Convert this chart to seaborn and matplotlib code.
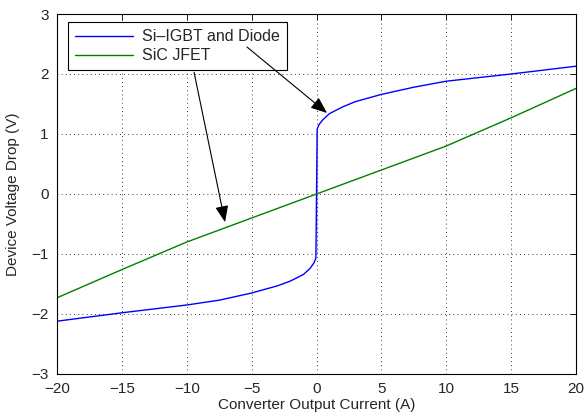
import numpy as np
import pandas as pd
import seaborn as sns
import matplotlib.pyplot as plt

# Si-IGBT + diode forward characteristic
igbt_current = [-20, -15, -10, -7.5, -5, -3, -2, -1, -0.5, -0.2, -0.05, 0,
                0, 0.05, 0.2, 0.5, 1, 2, 3, 5, 7.5, 10, 15, 20]
igbt_voltage = [-2.12, -1.98, -1.85, -1.77, -1.65, -1.53, -1.45, -1.34, -1.24, -1.15, -1.07, -1.0,
                1.0, 1.08, 1.16, 1.24, 1.34, 1.45, 1.54, 1.66, 1.78, 1.88, 2.0, 2.13]

# SiC JFET (nearly ohmic)
jfet_current = [-20, -15, -10, -5, 0, 5, 10, 15, 20]
jfet_voltage = [-1.73, -1.26, -0.8, -0.4, 0, 0.4, 0.8, 1.27, 1.76]

igbt = pd.DataFrame({"I": igbt_current, "V": igbt_voltage})
jfet = pd.DataFrame({"I": jfet_current, "V": jfet_voltage})

sns.set_style("white")
plt.rcParams["font.family"] = ["Liberation Sans", "DejaVu Sans"]

fig = plt.figure(figsize=(5.86, 4.18), dpi=100)
ax = fig.add_axes([0.0973, 0.1053, 0.8857, 0.8612])

sns.lineplot(data=igbt, x="I", y="V", sort=False, color="#0000ff", lw=1,
             label="Si–IGBT and Diode", ax=ax)
sns.lineplot(data=jfet, x="I", y="V", sort=False, color="#008000", lw=1,
             label="SiC JFET", ax=ax)

ax.set_xlim(-20, 20)
ax.set_ylim(-3, 3)
ax.set_xticks(range(-20, 21, 5))
ax.set_yticks(range(-3, 4))
ax.grid(True, color="k", linestyle=(0, (1, 4)), lw=0.6)
ax.tick_params(direction="in", top=True, right=True, length=4, width=0.6,
               labelsize=11, color="k")
ax.tick_params(axis="x", pad=6)
ax.tick_params(axis="y", pad=6)
for s in ax.spines.values():
    s.set_color("k")
    s.set_linewidth(0.8)

ax.set_xlabel("Converter Output Current (A)", fontsize=11, labelpad=1)
ax.set_ylabel("Device Voltage Drop (V)", fontsize=11, labelpad=8)

leg = ax.legend(loc="upper left", bbox_to_anchor=(0.021, 0.978), borderaxespad=0,
                fancybox=False, framealpha=1, edgecolor="k", fontsize=11.5,
                handlelength=3.6, borderpad=0.45, labelspacing=0.25, handletextpad=0.6)
leg.get_frame().set_linewidth(0.8)

arrow = dict(arrowstyle="-|>,head_length=1.0,head_width=0.4", color="k", lw=0.8,
             shrinkA=0, shrinkB=0)
ax.annotate("", xy=(0.81, 1.35), xytext=(-5.36, 2.45), arrowprops=arrow, zorder=10)
ax.annotate("", xy=(-7.05, -0.47), xytext=(-9.44, 2.03), arrowprops=arrow, zorder=10)

fig.savefig("out.png", dpi=100)
